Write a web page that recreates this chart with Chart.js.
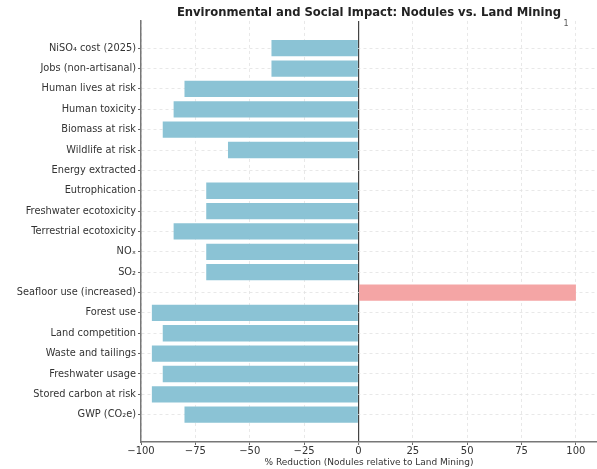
<!DOCTYPE html>
<html>
<head>
<meta charset="utf-8">
<script src="https://cdn.jsdelivr.net/npm/chart.js@4.4.0/dist/chart.umd.min.js"></script>
<style>
    html, body { margin: 0; padding: 0; background: #fff; }
</style>
</head>
<body>
<canvas id="impact-chart" width="597" height="469"></canvas>
<script>
// categories, top to bottom as shown
const categories = [
    'NiSO₄ cost (2025)',
    'Jobs (non-artisanal)',
    'Human lives at risk',
    'Human toxicity',
    'Biomass at risk',
    'Wildlife at risk',
    'Energy extracted',
    'Eutrophication',
    'Freshwater ecotoxicity',
    'Terrestrial ecotoxicity',
    'NOₓ',
    'SO₂',
    'Seafloor use (increased)',
    'Forest use',
    'Land competition',
    'Waste and tailings',
    'Freshwater usage',
    'Stored carbon at risk',
    'GWP (CO₂e)'
];
const reductions = [-40, -40, -80, -85, -90, -60, 0, -70, -70, -85, -70, -70, 100, -95, -90, -95, -90, -95, -80];
const xTicks = [-100, -75, -50, -25, 0, 25, 50, 75, 100];

const reductionColor = '#8bc3d5';
const increaseColor = '#f4a5a5';
const fontFamily = "'DejaVu Sans', sans-serif";

// stray label in the top right corner of the original figure
const cornerNote = {
    id: 'cornerNote',
    afterDraw(chart) {
        const ctx = chart.ctx;
        ctx.save();
        ctx.font = '8px ' + fontFamily;
        ctx.fillStyle = '#555';
        ctx.textAlign = 'center';
        ctx.textBaseline = 'middle';
        ctx.fillText('1', 566, 24);
        ctx.restore();
    }
};

const impactChart = new Chart(document.getElementById('impact-chart'), {
    type: 'bar',
    data: {
        datasets: [{
            data: categories.map((c, i) => ({ x: reductions[i], y: i })),
            backgroundColor: reductions.map(v => v > 0 ? increaseColor : reductionColor),
            borderWidth: 0,
            barPercentage: 0.8,
            categoryPercentage: 1.0
        }]
    },
    options: {
        indexAxis: 'y',
        responsive: false,
        animation: false,
        devicePixelRatio: 1,
        layout: { padding: 0 },
        plugins: {
            legend: { display: false },
            tooltip: { enabled: false },
            title: {
                display: true,
                fullSize: false,
                text: 'Environmental and Social Impact: Nodules vs. Land Mining',
                color: '#222',
                font: { family: fontFamily, size: 11.6, weight: 'bold' },
                padding: { top: 6, bottom: 1 }
            }
        },
        scales: {
            x: {
                type: 'linear',
                min: -100,
                max: 109.7,
                afterBuildTicks: (scale) => {
                    scale.ticks = xTicks.map(v => ({ value: v }));
                },
                afterFit: (scale) => { scale.height = 27; },
                ticks: {
                    color: '#333',
                    font: { family: fontFamily, size: 10 },
                    padding: 0,
                    callback: (v) => String(v).replace('-', '\u2212')
                },
                grid: {
                    color: (ctx) => ctx.tick && ctx.tick.value === 0 ? '#444' : '#e2e2e2',
                    lineWidth: (ctx) => ctx.tick && ctx.tick.value === 0 ? 1.2 : 0.8,
                    tickColor: '#666',
                    tickLength: 3,
                    tickWidth: 1
                },
                border: {
                    color: '#777',
                    width: 1.5,
                    dash: (ctx) => ctx.tick && ctx.tick.value === 0 ? [] : [3, 3]
                },
                title: {
                    display: true,
                    text: '% Reduction (Nodules relative to Land Mining)',
                    color: '#333',
                    font: { family: fontFamily, size: 9 },
                    padding: { top: 0, bottom: 1 }
                }
            },
            y: {
                type: 'linear',
                reverse: true,
                offset: false,
                min: -1.34,
                max: 19.34,
                afterBuildTicks: (scale) => {
                    scale.ticks = categories.map((c, i) => ({ value: i }));
                },
                afterFit: (scale) => { scale.width = 141; },
                ticks: {
                    color: '#333',
                    autoSkip: false,
                    font: { family: fontFamily, size: 9.8 },
                    padding: 2,
                    callback: (v) => categories[v]
                },
                grid: {
                    offset: false,
                    color: '#e2e2e2',
                    lineWidth: 0.8,
                    tickColor: '#666',
                    tickLength: 3,
                    tickWidth: 1
                },
                border: {
                    color: '#777',
                    width: 1.5,
                    dash: [3, 3]
                }
            }
        }
    },
    plugins: [cornerNote]
});
</script>
</body>
</html>
